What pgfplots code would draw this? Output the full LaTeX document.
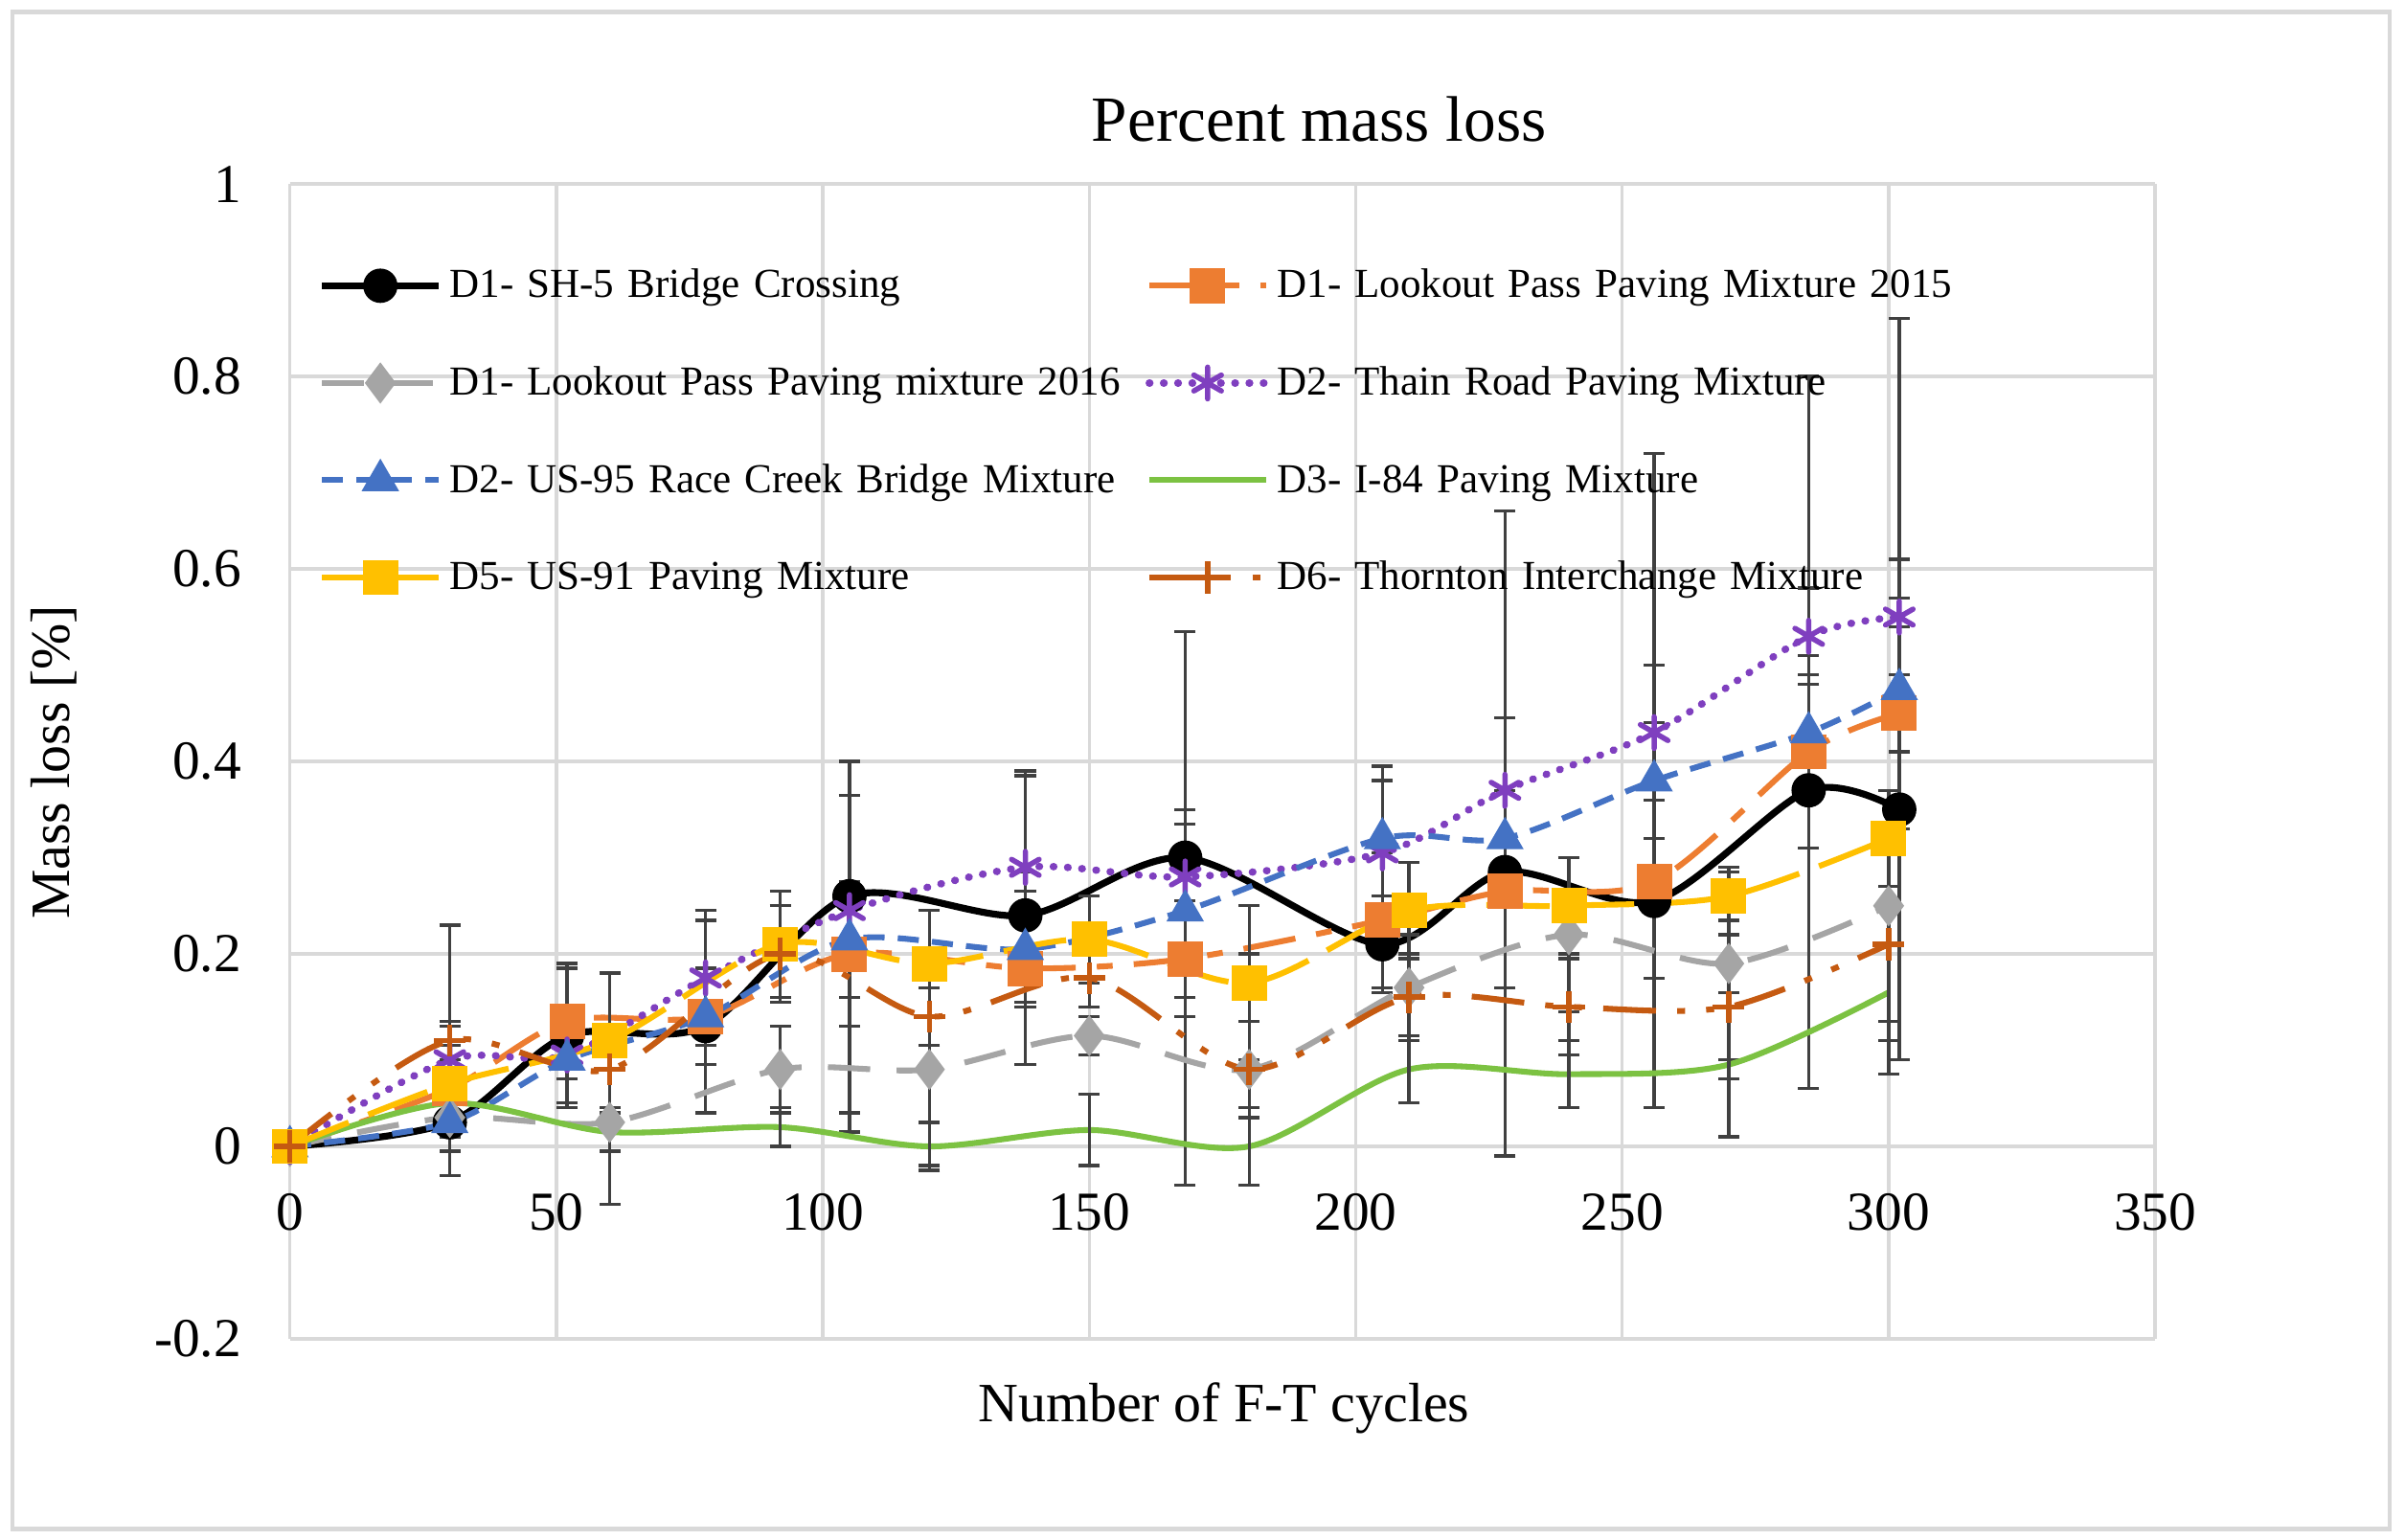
\documentclass[border=0pt]{standalone}
\usepackage{fontspec}
\setmainfont{Liberation Serif}
\usepackage{pgfplots}
\pgfplotsset{compat=1.18}
\definecolor{gridc}{HTML}{D9D9D9}
\definecolor{errc}{HTML}{404040}
\definecolor{corange}{HTML}{ED7D31}
\definecolor{cgray}{HTML}{A5A5A5}
\definecolor{cpurple}{HTML}{7F3FBF}
\definecolor{cblue}{HTML}{4472C4}
\definecolor{cgreen}{HTML}{7CC242}
\definecolor{cyellow}{HTML}{FFC000}
\definecolor{cbrown}{HTML}{C55A11}
\pgfplotsset{
  errs/.style={error bars/.cd, y dir=both, y explicit,
    error bar style={color=errc, line width=0.6pt, solid},
    error mark options={color=errc, line width=0.6pt, mark size=2pt, rotate=90, solid}},
}
\begin{document}
\begin{tikzpicture}
\useasboundingbox (-1.929,-1.337) rectangle (14.071,8.908);
\draw[gridc, line width=0.8pt] (-1.847,-1.265) rectangle (13.97,8.827);
\begin{axis}[
  scale only axis, width=12.408cm, height=7.684cm,
  xmin=0, xmax=350, ymin=-0.2, ymax=1,
  xtick={0,50,...,350}, ytick={-0.2,0,0.2,0.4,0.6,0.8,1},
  grid=major, major grid style={gridc, line width=0.6pt},
  axis line style={draw=none}, major tick length=0pt,
  /pgf/number format/assume math mode=true,
  tick label style={font=\fontsize{10.4}{12}\selectfont},
  yticklabel={\pgfmathprintnumber[fixed,precision=1]{\tick}},
  xticklabel style={yshift=1.09cm},
  yticklabel style={xshift=-0.2cm},
  legend columns=2,
  legend cell align=left,
  legend style={at={(axis description cs:0.0148,0.931)}, anchor=north west,
    draw=none, fill=none, inner sep=0pt,
    font=\fontsize{7.8}{9}\selectfont, row sep=0.367cm, column sep=0.05cm,
    nodes={inner sep=0pt, text height=0.22cm, text depth=0.06cm},
    /tikz/every even column/.append style={text width=4.58cm, align=left}},
  legend image code/.code={\draw[mark repeat=2,mark phase=2] plot coordinates {(0cm,0cm) (0.388cm,0cm) (0.776cm,0cm)};},
  every axis plot/.append style={line width=1.1pt, smooth, tension=0.5},
]
% D1- SH-5
\addplot[black, line width=1.3pt, mark=*, mark size=2.6pt, mark options={solid}, errs] coordinates {
  (0,0) (30,0.025) += (0,0.205) -= (0,0.055)
  (52,0.115) += (0,0.07) -= (0,0.07)
  (78,0.125) += (0,0.12) -= (0,0.09)
  (105,0.26) += (0,0.14) -= (0,0.245)
  (138,0.24) += (0,0.15) -= (0,0.09)
  (168,0.30) += (0,0.235) -= (0,0.34)
  (205,0.21) += (0,0.185) -= (0,0.05)
  (228,0.285) += (0,0.375) -= (0,0.295)
  (256,0.255) += (0,0.465) -= (0,0.215)
  (285,0.37) += (0,0.43) -= (0,0.31)
  (302,0.35) += (0,0.51) -= (0,0.26)
};
\addlegendentry{D1- SH-5 Bridge Crossing}
% D1- Lookout 2015
\addplot[corange, dash pattern=on 10pt off 4pt on 3pt off 4pt, mark=square*, mark size=2.8pt, mark options={solid}, errs] coordinates {
  (0,0) (30,0.06) +- (0,0.05)
  (52,0.13) +- (0,0.06)
  (78,0.135) +- (0,0.1)
  (105,0.2) +- (0,0.165)
  (138,0.185) +- (0,0.1)
  (168,0.195) +- (0,0.06)
  (205,0.235) +- (0,0.07)
  (228,0.265) += (0,0.18) -= (0,0.1)
  (256,0.275) +- (0,0.1)
  (285,0.41) +- (0,0.1)
  (302,0.45) +- (0,0.12)
};
\addlegendentry{D1- Lookout Pass Paving Mixture 2015}
% D1- Lookout 2016
\addplot[cgray, dash pattern=on 8pt off 5pt, mark=diamond*, mark size=3pt, mark options={solid}, errs] coordinates {
  (0,0) (30,0.03) +- (0,0.02)
  (60,0.025) +- (0,0.085)
  (92,0.08) +- (0,0.045)
  (120,0.08) +- (0,0.1)
  (150,0.115) +- (0,0.02)
  (180,0.08) +- (0,0.05)
  (210,0.165) +- (0,0.055)
  (240,0.22) +- (0,0.08)
  (270,0.19) +- (0,0.1)
  (300,0.25) +- (0,0.12)
};
\addlegendentry{D1- Lookout Pass Paving mixture 2016}
% D2- Thain Road
\addplot[cpurple, line cap=round, dash pattern=on 0.1pt off 2.6pt, line width=1.4pt, mark=asterisk, mark size=3pt, mark options={solid, line width=1pt}, errs] coordinates {
  (0,0) (30,0.09) +- (0,0.035)
  (52,0.095) +- (0,0.05)
  (78,0.175) +- (0,0.07)
  (105,0.245) +- (0,0.12)
  (138,0.29) +- (0,0.095)
  (168,0.28) +- (0,0.07)
  (205,0.305) +- (0,0.09)
  (228,0.37) +- (0,0.075)
  (256,0.43) +- (0,0.07)
  (285,0.53) +- (0,0.05)
  (302,0.55) +- (0,0.06)
};
\addlegendentry{D2- Thain Road Paving Mixture}
% D2- US-95
\addplot[cblue, dash pattern=on 4pt off 2.5pt, mark=triangle*, mark size=3pt, mark options={solid}, errs] coordinates {
  (0,0) (30,0.025) +- (0,0.03)
  (52,0.09) +- (0,0.05)
  (78,0.135) +- (0,0.05)
  (105,0.215) +- (0,0.06)
  (138,0.205) +- (0,0.06)
  (168,0.245) +- (0,0.09)
  (205,0.32) +- (0,0.06)
  (228,0.32) +- (0,0.05)
  (256,0.38) +- (0,0.06)
  (285,0.43) +- (0,0.06)
  (302,0.475) +- (0,0.065)
};
\addlegendentry{D2- US-95 Race Creek Bridge Mixture}
% D3- I-84
\addplot[cgreen, solid, no markers, errs] coordinates {
  (0,0) (30,0.045) +- (0,0.02)
  (60,0.015) +- (0,0.02)
  (92,0.02) +- (0,0.02)
  (120,0.0) +- (0,0.025)
  (150,0.017) +- (0,0.037)
  (180,0.0) +- (0,0.04)
  (210,0.08) +- (0,0.035)
  (240,0.075) +- (0,0.035)
  (270,0.085) +- (0,0.075)
  (300,0.16) +- (0,0.085)
};
\addlegendentry{D3- I-84 Paving Mixture}
% D5- US-91
\addplot[cyellow, dash pattern=on 12pt off 4pt, mark=square*, mark size=2.8pt, mark options={solid}, legend image post style={solid}, errs] coordinates {
  (0,0) (30,0.065) +- (0,0.04)
  (60,0.11) +- (0,0.07)
  (92,0.21) +- (0,0.055)
  (120,0.19) +- (0,0.055)
  (150,0.215) +- (0,0.045)
  (180,0.17) +- (0,0.08)
  (210,0.245) +- (0,0.05)
  (240,0.25) +- (0,0.05)
  (270,0.26) +- (0,0.025)
  (300,0.32) +- (0,0.05)
};
\addlegendentry{D5- US-91 Paving Mixture}
% D6- Thornton
\addplot[cbrown, dash pattern=on 10pt off 4pt on 1.5pt off 4pt on 1.5pt off 4pt, mark=+, mark size=3pt, mark options={solid, line width=1pt}, errs] coordinates {
  (0,0) (30,0.11) +- (0,0.02)
  (60,0.08) +- (0,0.04)
  (92,0.2) +- (0,0.05)
  (120,0.135) +- (0,0.03)
  (150,0.175) +- (0,0.03)
  (180,0.08) +- (0,0.12)
  (210,0.155) +- (0,0.045)
  (240,0.145) +- (0,0.05)
  (270,0.145) +- (0,0.075)
  (300,0.21) +- (0,0.1)
};
\addlegendentry{D6- Thornton Interchange Mixture}
\end{axis}
\node[font=\fontsize{12.2}{14}\selectfont] at (6.847,8.112) {Percent mass loss};
\node[font=\fontsize{10.5}{12}\selectfont] at (6.214,-0.459) {Number of F-T cycles};
\node[font=\fontsize{10.5}{12}\selectfont, rotate=90] at (-1.571,3.837) {Mass loss [\%]};
\end{tikzpicture}
\end{document}
